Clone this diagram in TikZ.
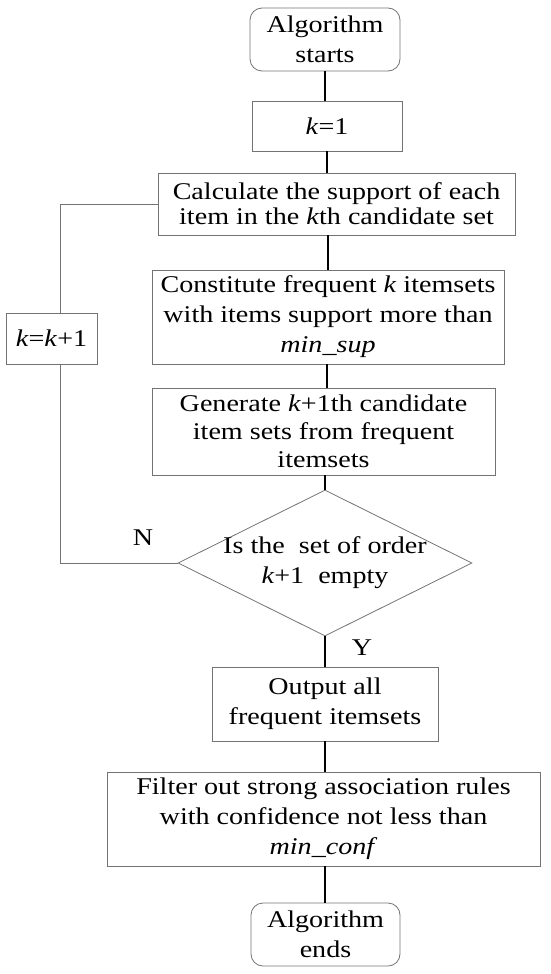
\documentclass[tikz,border=0pt]{standalone}
\usepackage{fontspec}
\setmainfont[FakeStretch=1.17]{Liberation Serif}
\usetikzlibrary{shapes.geometric,calc}
\begin{document}
\begin{tikzpicture}[x=1pt,y=-1pt,
  box/.style={draw=black!55, line width=0.8pt, align=center, inner sep=0pt,
    font=\fontsize{24}{30}\selectfont},
  term/.style={box, rounded corners=12pt},
  conn/.style={draw=black, line width=1.8pt},
  loop/.style={draw=black!55, line width=0.8pt},
  lbl/.style={font=\fontsize{24}{30}\selectfont, inner sep=0pt}]
\useasboundingbox (0,0) rectangle (550,974);
\node[term, minimum width=150, minimum height=63] (start) at (325,39.5) {Algorithm\\starts};
\node[box, minimum width=150, minimum height=50] (k1) at (327,126) {\textit{k}=1};
\node[box, minimum width=357, minimum height=62, font=\fontsize{24}{25}\selectfont] (calc) at (336.5,204) {Calculate the support of each\\item in the \textit{k}th candidate set};
\node[box, minimum width=352, minimum height=94] (cons) at (328,317) {Constitute frequent \textit{k} itemsets\\with items support more than\\\textit{min\_sup}};
\node[box, minimum width=343, minimum height=87, font=\fontsize{24}{28}\selectfont] (gen) at (323.5,431.5) {Generate \textit{k}+1th candidate\\item sets from frequent\\itemsets};
\node[diamond, draw=black!55, line width=0.8pt, minimum width=294, minimum height=146, inner sep=0pt] (dia) at (325,563) {};
\node[lbl, align=center] (diat) at (dia) {Is the\ \ set of order\\\textit{k}+1\ \ empty};
\node[box, minimum width=91, minimum height=51] (kk) at (51.5,338.5) {\textit{k}=\textit{k}+1};
\node[box, minimum width=226, minimum height=74] (out) at (325,704) {Output all\\frequent itemsets};
\node[box, minimum width=433, minimum height=94] (filt) at (323.5,819) {Filter out strong association rules\\with confidence not less than\\\textit{min\_conf}};
\node[term, minimum width=149, minimum height=63] (end) at (325.5,934.5) {Algorithm\\ends};
\node[lbl] (N) at (143,538) {N};
\node[lbl] (Y) at (362,648) {Y};
\coordinate (lx) at ($(kk.south)+(8.5,0)$);
\coordinate (lxt) at ($(kk.north)+(8.5,0)$);
\draw[conn] (325,0 |- start.south) -- (325,0 |- k1.north);
\draw[conn] (327,0 |- k1.south) -- (327,0 |- calc.north);
\draw[conn] (328,0 |- calc.south) -- (328,0 |- cons.north);
\draw[conn] (327,0 |- cons.south) -- (327,0 |- gen.north);
\draw[conn] (325,0 |- gen.south) -- (dia.north);
\draw[conn] (dia.south) -- (325,0 |- out.north);
\draw[conn] (325,0 |- out.south) -- (325,0 |- filt.north);
\draw[conn] (325,0 |- filt.south) -- (325,0 |- end.north);
\draw[loop] (dia.west) -| (lx);
\draw[loop] (lxt) |- (calc.west);
\end{tikzpicture}
\end{document}
